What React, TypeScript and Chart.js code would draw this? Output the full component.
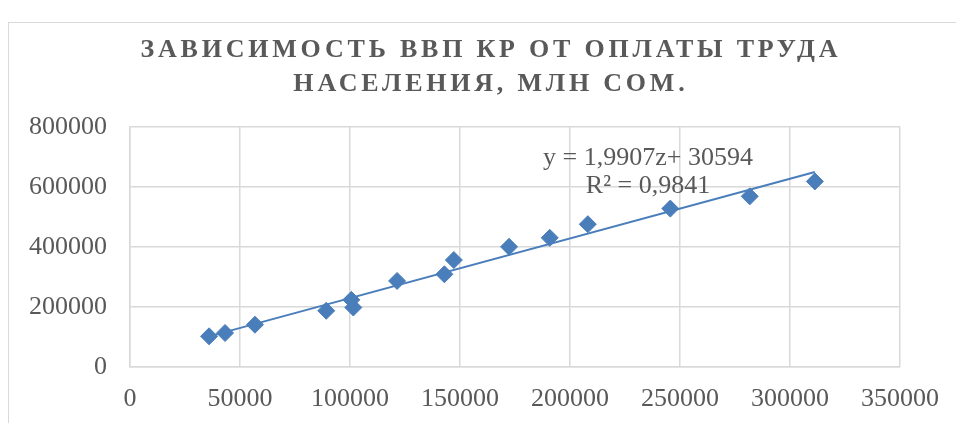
import React, { useEffect, useRef } from "react";
import { Chart, registerables } from "chart.js";

Chart.register(...registerables);

const TITLE_LINES = ["ЗАВИСИМОСТЬ ВВП КР ОТ ОПЛАТЫ ТРУДА", "НАСЕЛЕНИЯ, МЛН СОМ."];
const EQUATION_LINES = ["y = 1,9907z+ 30594", "R² = 0,9841"];

// Wages (x) and GDP (y), mln som
const wages = [35950, 43200, 56800, 89200, 100600, 101500, 121400, 142900, 147200, 172300, 190800, 208100, 245600, 281700, 311300];
const gdp = [102200, 113400, 141000, 187400, 223900, 198300, 286900, 309100, 356500, 400600, 430500, 476000, 528000, 568800, 618600];

const TREND_SLOPE = 1.9907;
const TREND_INTERCEPT = 30594;

const X_MIN = 0;
const X_MAX = 350000;
const X_STEP = 50000;
const Y_MIN = 0;
const Y_MAX = 800000;
const Y_STEP = 200000;

const TEXT_COLOR = "#595959";
const GRID_COLOR = "#D9D9D9";
const SERIES_COLOR = "#4A7EBB";
const FONT_FAMILY = '"Liberation Serif", "Times New Roman", serif';

const decorPlugin = {
  id: "decor",
  beforeDraw(chart: any) {
    const ctx = chart.ctx as CanvasRenderingContext2D;
    ctx.save();
    ctx.fillStyle = "#ffffff";
    ctx.fillRect(0, 0, chart.width, chart.height);
    ctx.strokeStyle = GRID_COLOR;
    ctx.lineWidth = 1;
    ctx.strokeRect(8.5, 22.5, 2000, 2000);

    ctx.font = `bold 26px ${FONT_FAMILY}`;
    ctx.fillStyle = TEXT_COLOR;
    ctx.textAlign = "left";
    ctx.textBaseline = "alphabetic";
    (ctx as any).letterSpacing = "0px";
    const first = TITLE_LINES[0];
    const w0 = ctx.measureText(first).width;
    const spacing = (697 - w0) / (first.length - 1);
    const cx = 489;
    const baselines = [57, 91];
    const widths = TITLE_LINES.map((l) => ctx.measureText(l).width + spacing * (l.length - 1));
    (ctx as any).letterSpacing = `${spacing}px`;
    TITLE_LINES.forEach((line, i) => {
      ctx.fillText(line, cx - widths[i] / 2, baselines[i]);
    });
    ctx.restore();
  },
  afterDraw(chart: any) {
    const ctx = chart.ctx as CanvasRenderingContext2D;
    ctx.save();
    ctx.font = `26px ${FONT_FAMILY}`;
    ctx.fillStyle = TEXT_COLOR;
    ctx.textAlign = "center";
    ctx.textBaseline = "alphabetic";
    const cx = 648;
    const baselines = [165, 193];
    EQUATION_LINES.forEach((line, i) => ctx.fillText(line, cx, baselines[i]));
    ctx.restore();
  },
};

export default function App() {
  const canvasRef = useRef<HTMLCanvasElement | null>(null);

  useEffect(() => {
    if (!canvasRef.current) return;
    const points = wages.map((x, i) => ({ x, y: gdp[i] }));
    const xLo = Math.min(...wages);
    const xHi = Math.max(...wages);
    const trend = [
      { x: xLo, y: TREND_SLOPE * xLo + TREND_INTERCEPT },
      { x: xHi, y: TREND_SLOPE * xHi + TREND_INTERCEPT },
    ];
    const chart = new Chart(canvasRef.current, {
      type: "scatter",
      data: {
        datasets: [
          {
            label: "ВВП",
            data: points,
            pointStyle: "rectRot",
            pointRadius: 8.5,
            pointBorderWidth: 1,
            backgroundColor: SERIES_COLOR,
            borderColor: SERIES_COLOR,
            order: 1,
          },
          {
            type: "line",
            label: "Тренд",
            data: trend,
            borderColor: SERIES_COLOR,
            borderWidth: 2,
            pointRadius: 0,
            fill: false,
            order: 2,
          } as any,
        ],
      },
      options: {
        animation: false,
        responsive: false,
        maintainAspectRatio: false,
        layout: { padding: { top: 127, right: 54, left: 0, bottom: 0 } },
        plugins: {
          legend: { display: false },
          title: { display: false },
          tooltip: { enabled: false },
        },
        scales: {
          x: {
            type: "linear",
            min: X_MIN,
            max: X_MAX,
            ticks: {
              stepSize: X_STEP,
              color: TEXT_COLOR,
              font: { family: FONT_FAMILY, size: 26 },
              padding: 17,
              maxRotation: 0,
              autoSkip: false,
              callback: (v: any) => String(v),
            },
            grid: { color: GRID_COLOR, drawTicks: false, lineWidth: 1.5 },
            border: { color: GRID_COLOR, width: 1.5 },
            afterFit: (scale: any) => {
              scale.height = 56;
            },
          },
          y: {
            type: "linear",
            min: Y_MIN,
            max: Y_MAX,
            ticks: {
              stepSize: Y_STEP,
              color: TEXT_COLOR,
              font: { family: FONT_FAMILY, size: 26 },
              padding: 23,
              callback: (v: any) => String(v),
            },
            grid: { color: GRID_COLOR, drawTicks: false, lineWidth: 1.5 },
            border: { color: GRID_COLOR, width: 1.5 },
            afterFit: (scale: any) => {
              scale.width = 130;
            },
          },
        },
      },
      plugins: [decorPlugin],
    });
    return () => chart.destroy();
  }, []);

  return (
    <div style={{ position: "fixed", left: 0, top: 0, width: 956, height: 423, background: "#fff" }}>
      <canvas ref={canvasRef} width={956} height={423} style={{ display: "block", width: 956, height: 423 }} />
    </div>
  );
}
